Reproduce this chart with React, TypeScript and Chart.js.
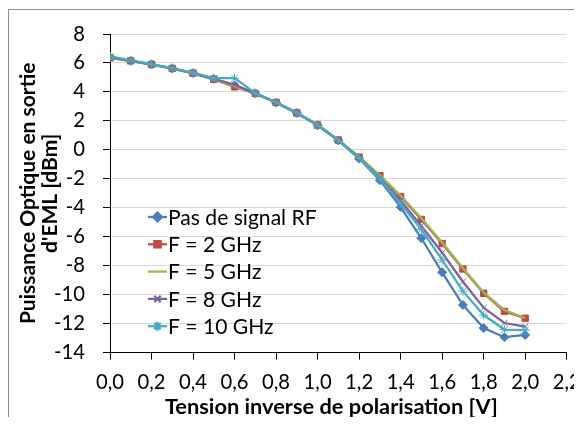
import React, { useEffect, useRef } from 'react';
import { Chart, registerables } from 'chart.js';
import { drawPoint } from 'chart.js/helpers';

Chart.register(...registerables);

// ---- Data ----
const voltages = [0.0, 0.1, 0.2, 0.3, 0.4, 0.5, 0.6, 0.7, 0.8, 0.9, 1.0, 1.1, 1.2, 1.3, 1.4, 1.5, 1.6, 1.7, 1.8, 1.9, 2.0];

const seriesLabels = ['Pas de signal RF', 'F = 2 GHz', 'F = 5 GHz', 'F = 8 GHz', 'F = 10 GHz'];

const pasDeSignal = [6.4, 6.15, 5.9, 5.62, 5.3, 4.9, 4.45, 3.9, 3.25, 2.55, 1.7, 0.65, -0.6, -2.1, -3.95, -6.1, -8.45, -10.7, -12.3, -12.93, -12.77];
const f2GHz = [6.35, 6.15, 5.9, 5.62, 5.3, 4.87, 4.35, 3.9, 3.28, 2.55, 1.72, 0.68, -0.5, -1.78, -3.22, -4.8, -6.47, -8.22, -9.9, -11.15, -11.62];
const f5GHz = [6.33, 6.12, 5.88, 5.6, 5.28, 4.85, 4.4, 3.88, 3.3, 2.57, 1.75, 0.7, -0.48, -1.75, -3.15, -4.72, -6.4, -8.15, -9.85, -11.05, -11.6];
const f8GHz = [6.4, 6.15, 5.9, 5.62, 5.3, 4.9, 4.5, 3.9, 3.27, 2.55, 1.7, 0.66, -0.55, -1.95, -3.5, -5.25, -7.1, -9.1, -10.9, -11.95, -12.2];
const f10GHz = [6.45, 6.18, 5.92, 5.65, 5.32, 4.95, 4.95, 3.92, 3.27, 2.55, 1.7, 0.65, -0.58, -2.0, -3.7, -5.5, -7.6, -9.75, -11.4, -12.4, -12.45];

const xTitle = 'Tension inverse de polarisation [V]';
const yTitle = ['Puissance Optique en sortie', "d'EML [dBm]"];

const xMin = 0, xMax = 2.2, xStep = 0.2;
const yMin = -14, yMax = 8, yStep = 2;

// ---- Styles ----
const FONT = 'Lato';
const colors = ['#4A7EBB', '#BE4B48', '#98B954', '#7D60A0', '#46AAC5'];
const markers = ['rectRot', 'rect', false, 'crossRot', 'star'];
const markerRadius = [4.5, 4.5, 0, 4.5, 4.5];

const CANVAS_W = 574;
const CANVAS_H = 409;

const toXY = (ys: number[]) => ys.map((y, i) => ({ x: voltages[i], y }));

// pick a font size so that a sample text gets the width seen in the reference
function fitSize(text: string, target: number, weight: string) {
  const c = document.createElement('canvas').getContext('2d') as CanvasRenderingContext2D;
  c.font = `${weight} 100px ${FONT}`;
  const w = c.measureText(text).width || 1;
  return Math.round((100 * target) / w * 10) / 10;
}

export default function App() {
  const ref = useRef<HTMLCanvasElement>(null);

  useEffect(() => {
    document.documentElement.style.overflow = 'hidden';
    let chart: Chart | null = null;
    let cancelled = false;

    const build = () => {
      if (cancelled || !ref.current) return;
      const tickSize = fitSize('0,0', 28, 'normal');
      const legendSize = fitSize(seriesLabels[0], 149, 'normal');
      const xTitleSize = fitSize(xTitle, 333, 'bold');
      const yTitleSize = fitSize(yTitle[0], 262, 'bold');

      const overlayPlugin = {
        id: 'overlay',
        beforeDraw(ch: any) {
          const ctx = ch.ctx;
          ctx.save();
          ctx.fillStyle = '#ffffff';
          ctx.fillRect(0, 0, ch.width, ch.height);
          ctx.restore();
        },
        afterDraw(ch: any) {
          const ctx = ch.ctx;
          const area = ch.chartArea;
          ctx.save();
          // chart frame (left and top edges visible in the picture)
          ctx.strokeStyle = '#8C8C8C';
          ctx.lineWidth = 1;
          ctx.beginPath();
          ctx.moveTo(0.5, ch.height);
          ctx.lineTo(0.5, 1.5);
          ctx.lineTo(ch.width, 1.5);
          ctx.stroke();
          // x axis title
          ctx.fillStyle = '#000';
          ctx.font = `bold ${xTitleSize}px ${FONT}`;
          ctx.textAlign = 'center';
          ctx.textBaseline = 'middle';
          ctx.fillText(xTitle, (area.left + area.right) / 2 - 7, 398.5);
          // legend inside the plot area
          const lx = area.left + 38;
          const ly = area.top + 183;
          const spacing = 27.3;
          ch.data.datasets.forEach((ds: any, i: number) => {
            const y = ly + i * spacing;
            ctx.strokeStyle = ds.borderColor;
            ctx.lineWidth = 2.25;
            ctx.beginPath();
            ctx.moveTo(lx, y);
            ctx.lineTo(lx + 19, y);
            ctx.stroke();
            if (ds.pointStyle) {
              ctx.fillStyle = ds.borderColor;
              ctx.strokeStyle = ds.borderColor;
              drawPoint(ctx, {
                pointStyle: ds.pointStyle,
                radius: ds.pointRadius,
                rotation: 0,
                borderWidth: 1,
              } as any, lx + 9.5, y);
            }
            ctx.fillStyle = '#000';
            ctx.font = `${legendSize}px ${FONT}`;
            ctx.textAlign = 'left';
            ctx.textBaseline = 'middle';
            ctx.fillText(ds.label, lx + 20, y + 1);
          });
          ctx.restore();
        },
      };

      const seriesValues = [pasDeSignal, f2GHz, f5GHz, f8GHz, f10GHz];
      const datasets = seriesValues.map((vals, i) => ({
        label: seriesLabels[i],
        data: toXY(vals),
        borderColor: colors[i],
        backgroundColor: colors[i],
        pointBorderColor: colors[i],
        pointBackgroundColor: colors[i],
        borderWidth: 2.25,
        pointStyle: markers[i] as any,
        pointRadius: markerRadius[i],
        pointBorderWidth: 1,
        tension: 0,
        order: 5 - i,
      }));

      const tickFont = { family: FONT, size: tickSize, lineHeight: 1.2 };
      const yTitleFont = { family: FONT, size: yTitleSize, weight: 'bold' as const, lineHeight: 22 / yTitleSize };
      const xTickPad = 374 - 344.7 - 7 - (tickSize * 1.2) / 2;

      chart = new Chart(ref.current, {
        type: 'line',
        data: { datasets },
        options: {
          animation: false,
          responsive: false,
          maintainAspectRatio: false,
          layout: { padding: { top: 26, right: 15.3, left: 0, bottom: 0 } },
          plugins: {
            legend: { display: false },
            tooltip: { enabled: false },
          },
          scales: {
            x: {
              type: 'linear',
              min: xMin,
              max: xMax,
              ticks: {
                stepSize: xStep,
                font: tickFont,
                color: '#000',
                padding: xTickPad,
                maxRotation: 0,
                autoSkip: false,
                callback: (v: any) => Number(v).toFixed(1).replace('.', ','),
              },
              grid: { drawOnChartArea: false, drawTicks: true, tickLength: 7, tickColor: '#000' },
              border: { color: '#000', width: 1 },
              title: { display: false },
              afterFit: (s: any) => { s.height = CANVAS_H - 344.7; s.paddingLeft = 0; s.paddingRight = 0; },
            },
            y: {
              type: 'linear',
              min: yMin,
              max: yMax,
              ticks: { stepSize: yStep, font: tickFont, color: '#000', padding: 18 },
              grid: {
                color: (c: any) => (c.tick && c.tick.value === yMin ? 'rgba(0,0,0,0)' : '#D9D9D9'),
                tickColor: '#000',
                tickLength: 7,
                lineWidth: 1,
              },
              border: { color: '#000', width: 1 },
              title: { display: true, text: yTitle, font: yTitleFont, color: '#000', padding: { top: 9, bottom: 0 } },
              afterFit: (s: any) => { s.width = 102; s.paddingTop = 0; s.paddingBottom = 0; },
            },
          },
        },
        plugins: [overlayPlugin],
      });
    };

    const fontsApi = (document as any).fonts;
    if (fontsApi && fontsApi.load) {
      Promise.all([
        fontsApi.load(`100px ${FONT}`),
        fontsApi.load(`bold 100px ${FONT}`),
      ]).then(build, build);
    } else {
      build();
    }

    return () => {
      cancelled = true;
      if (chart) chart.destroy();
    };
  }, []);

  return (
    <div style={{ width: CANVAS_W, height: CANVAS_H }}>
      <canvas ref={ref} width={CANVAS_W} height={CANVAS_H} style={{ display: 'block', width: CANVAS_W, height: CANVAS_H }} />
    </div>
  );
}
